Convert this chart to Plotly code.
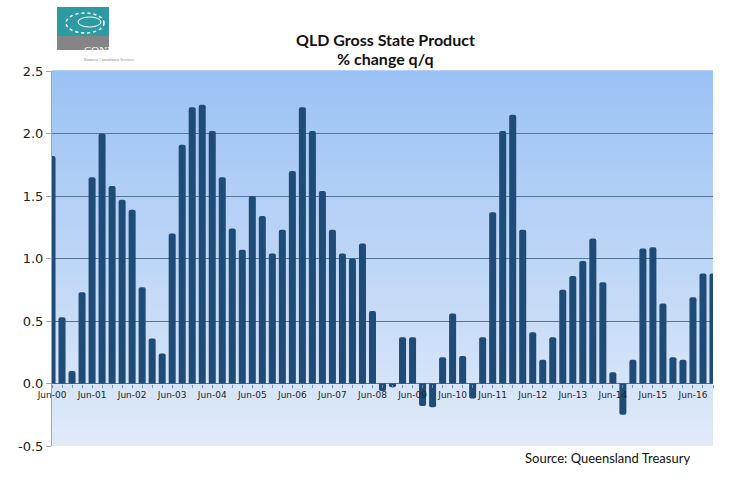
import plotly.graph_objects as go

# quarterly categories Jun-00 .. Dec-16
MONTHS = ["Mar", "Jun", "Sep", "Dec"]
quarters = [f"{m}-{y:02d}" for y in range(0, 17) for m in MONTHS][1:]

# % change q/q
gsp_change = [
    1.82, 0.53, 0.10, 0.73,
    1.65, 2.00, 1.58, 1.47,
    1.39, 0.77, 0.36, 0.24,
    1.20, 1.91, 2.21, 2.23,
    2.02, 1.65, 1.24, 1.07,
    1.50, 1.34, 1.04, 1.23,
    1.70, 2.21, 2.02, 1.54,
    1.23, 1.04, 1.00, 1.12,
    0.58, -0.06, -0.03, 0.37,
    0.37, -0.18, -0.19, 0.21,
    0.56, 0.22, -0.12, 0.37,
    1.37, 2.02, 2.15, 1.23,
    0.41, 0.19, 0.37, 0.75,
    0.86, 0.98, 1.16, 0.81,
    0.09, -0.25, 0.19, 1.08,
    1.09, 0.64, 0.21, 0.19,
    0.69, 0.88, 0.88,
]
tick_text = [q if q.startswith("Jun") else "" for q in quarters]
y_ticks = [-0.5, 0.0, 0.5, 1.0, 1.5, 2.0, 2.5]
y_tick_text = ["-0.5", "0.0", "0.5", "1.0", "1.5", "2.0", "2.5"]

BAR_COLOR = "#1f4b77"
GRID_COLOR = "#56759b"
TOP_RGB = (155, 194, 244)
BOTTOM_RGB = (224, 234, 249)

W, H = 750, 490
L, R, T, B = 52, 37, 71, 44
PW, PH = W - L - R, H - T - B


def px(x):  # pixel -> paper x
    return (x - L) / PW


def py(y):  # pixel -> paper y
    return (H - B - y) / PH


fig = go.Figure()
fig.add_bar(
    x=quarters,
    y=gsp_change,
    marker=dict(color=BAR_COLOR, line=dict(width=0), cornerradius=2),
    hovertemplate="%{x}: %{y:.2f}%<extra></extra>",
)

# vertical gradient plot background
shapes = []
n_bands = 60
for i in range(n_bands):
    t = i / (n_bands - 1)
    c = tuple(round(BOTTOM_RGB[k] + (TOP_RGB[k] - BOTTOM_RGB[k]) * t) for k in range(3))
    shapes.append(dict(
        type="rect", xref="x domain", yref="y domain",
        x0=0, x1=1, y0=i / n_bands, y1=(i + 1) / n_bands + 0.002,
        fillcolor=f"rgb{c}", line=dict(width=0), layer="below",
    ))

# logo
shapes += [
    dict(type="rect", xref="paper", yref="paper", x0=px(57), x1=px(109),
         y0=py(36), y1=py(7), fillcolor="#2e9aa2", line=dict(width=0)),
    dict(type="rect", xref="paper", yref="paper", x0=px(57), x1=px(109),
         y0=py(50), y1=py(36), fillcolor="#858585", line=dict(width=0)),
    dict(type="circle", xref="paper", yref="paper", x0=px(66), x1=px(104),
         y0=py(33), y1=py(13), fillcolor="rgba(0,0,0,0)",
         line=dict(color="white", width=1.5, dash="dot")),
    dict(type="circle", xref="paper", yref="paper", x0=px(78), x1=px(101),
         y0=py(27), y1=py(17), fillcolor="rgba(0,0,0,0)",
         line=dict(color="white", width=1)),
]

annotations = [
    dict(text="<b>QLD Gross State Product</b>", x=px(385), y=py(28), xref="paper",
         yref="paper", showarrow=False, font=dict(family="Lato", size=16, color="#111")),
    dict(text="<b>% change q/q</b>", x=px(385), y=py(47), xref="paper",
         yref="paper", showarrow=False, font=dict(family="Lato", size=16, color="#111")),
    dict(text="Source: Queensland Treasury", x=px(692), y=py(468), xref="paper",
         yref="paper", xanchor="right", showarrow=False,
         font=dict(family="Lato", size=13, color="#111")),
    dict(text="CONUS", x=px(83), y=py(43), xref="paper", yref="paper",
         showarrow=False, borderpad=0,
         font=dict(family="Liberation Serif", size=11, color="white")),
    dict(text="Business Consultancy Services", x=px(83), y=py(56), xref="paper",
         yref="paper", showarrow=False, borderpad=0,
         font=dict(family="Liberation Serif", size=4, color="#888")),
]

fig.update_layout(
    width=W, height=H,
    margin=dict(l=L, r=R, t=T, b=B, autoexpand=False),
    paper_bgcolor="white",
    plot_bgcolor=f"rgb{BOTTOM_RGB}",
    bargap=0.3,
    showlegend=False,
    shapes=shapes,
    annotations=annotations,
    xaxis=dict(
        type="category",
        range=[0, len(quarters) - 1],
        tickvals=quarters,
        ticktext=tick_text,
        ticks="outside", ticklen=3, tickcolor="#7f8ea3",
        tickfont=dict(family="DejaVu Sans", size=9, color="#222"),
        showgrid=False, showline=False,
        anchor="free", position=1 / 6,
        tickangle=0,
    ),
    yaxis=dict(
        range=[-0.5, 2.5], tickvals=y_ticks, ticktext=y_tick_text,
        showgrid=True, gridcolor=GRID_COLOR, gridwidth=1,
        zeroline=True, zerolinecolor=GRID_COLOR, zerolinewidth=1,
        showline=True, linecolor="#a6a6a6", linewidth=1,
        ticks="outside", ticklen=5, tickcolor="#a6a6a6",
        tickfont=dict(family="DejaVu Sans", size=13, color="#222"),
    ),
)

# the page body has a default 8px margin; drop it so the figure sits at 0,0
fig.write_html(
    "out.html",
    config={"displayModeBar": False},
    post_script="document.body.style.margin='0px';",
)
